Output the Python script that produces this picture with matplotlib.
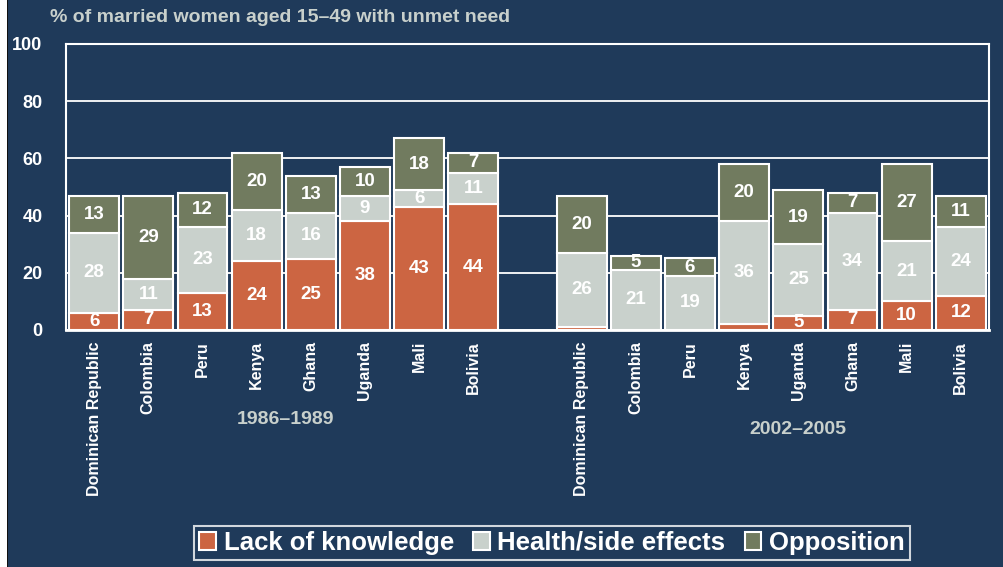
import numpy as np
import matplotlib.pyplot as plt
from matplotlib.patches import Rectangle

countries_1 = ["Dominican Republic", "Colombia", "Peru", "Kenya", "Ghana", "Uganda", "Mali", "Bolivia"]
countries_2 = ["Dominican Republic", "Colombia", "Peru", "Kenya", "Uganda", "Ghana", "Mali", "Bolivia"]

# 1986-1989 surveys
lack_1 = [6, 7, 13, 24, 25, 38, 43, 44]
health_1 = [28, 11, 23, 18, 16, 9, 6, 11]
oppos_1 = [13, 29, 12, 20, 13, 10, 18, 7]

# 2002-2005 surveys
lack_2 = [1, 0, 0, 2, 5, 7, 10, 12]
health_2 = [26, 21, 19, 36, 25, 34, 21, 24]
oppos_2 = [20, 5, 6, 20, 19, 7, 27, 11]

period_labels = ["1986–1989", "2002–2005"]
series_names = ["Lack of knowledge", "Health/side effects", "Opposition"]
yticks = [0, 20, 40, 60, 80, 100]

NAVY = "#1f3a5a"
ORANGE = "#cc6542"
LIGHT = "#c9d1cc"
OLIVE = "#717b5f"
PALE = "#c8d0cc"

plt.rcParams['font.family'] = ['Liberation Sans', 'DejaVu Sans']

fig = plt.figure(figsize=(10.04, 5.67), dpi=100, facecolor=NAVY)
# white strip with dark rule along the left edge
fig.patches.append(Rectangle((0, 0), 7 / 1004, 1, transform=fig.transFigure,
                             facecolor="white", edgecolor="none", zorder=0))
fig.patches.append(Rectangle((7 / 1004, 0), 1.5 / 1004, 1, transform=fig.transFigure,
                             facecolor="#111111", edgecolor="none", zorder=0))

ax = fig.add_axes([66 / 1004, 1 - 330 / 567, (989 - 66) / 1004, (330 - 44) / 567])
ax.set_facecolor(NAVY)

x1 = np.arange(8)
x2 = np.arange(9, 17)
x = np.concatenate([x1, x2])
lack = np.array(lack_1 + lack_2)
health = np.array(health_1 + health_2)
oppos = np.array(oppos_1 + oppos_2)

w = 0.92
ax.bar(x, lack, w, color=ORANGE, edgecolor="white", linewidth=1.5, label=series_names[0], zorder=3)
ax.bar(x, health, w, bottom=lack, color=LIGHT, edgecolor="white", linewidth=1.5,
       label=series_names[1], zorder=3)
ax.bar(x, oppos, w, bottom=lack + health, color=OLIVE, edgecolor="white", linewidth=1.5,
       label=series_names[2], zorder=3)

# value labels in the middle of each segment
for xi, a, b, c in zip(x, lack, health, oppos):
    for bottom, val in [(0, a), (a, b), (a + b, c)]:
        if val > 2:
            ax.text(xi, bottom + val / 2, str(val), ha="center", va="center",
                    color="white", fontsize=13.5, fontweight="bold", zorder=4,
                    clip_on=True)

ax.set_xlim(-0.52, 16.52)
ax.set_ylim(0, 100)
ax.set_yticks(yticks)
ax.set_yticklabels([str(t) for t in yticks], color="white", fontsize=13, fontweight="bold")
ax.yaxis.grid(True, color="white", linewidth=1.3, zorder=1)
ax.set_axisbelow(True)
ax.tick_params(axis="y", length=0, pad=17)
ax.tick_params(axis="x", length=0, pad=8)

ax.set_xticks(x)
ax.set_xticklabels(countries_1 + countries_2, rotation=90, color="white",
                   fontsize=11.5, fontweight="bold")

for s in ax.spines.values():
    s.set_color("white")
    s.set_linewidth(1.5)
ax.spines["bottom"].set_linewidth(2)

fig.text(285 / 1004, 1 - 420 / 567, period_labels[0], ha="center", va="center",
         color=PALE, fontsize=14, fontweight="bold")
fig.text(798 / 1004, 1 - 430 / 567, period_labels[1], ha="center", va="center",
         color=PALE, fontsize=14, fontweight="bold")

fig.text(50 / 1004, 1 - 17 / 567, "% of married women aged 15–49 with unmet need",
         ha="left", va="center", color=PALE, fontsize=14, fontweight="bold")

leg = fig.legend(loc="center", bbox_to_anchor=(552 / 1004, 1 - 543 / 567), ncol=3,
                 frameon=True, fancybox=False, facecolor=NAVY, edgecolor="white",
                 prop={"weight": "bold", "size": 18.5},
                 handlelength=0.65, handleheight=0.65, handletextpad=0.3,
                 columnspacing=0.75, borderpad=0.2, borderaxespad=0)
leg.get_frame().set_linewidth(1.5)
for t in leg.get_texts():
    t.set_color("white")

fig.savefig("out.png", dpi=100, facecolor=NAVY)
